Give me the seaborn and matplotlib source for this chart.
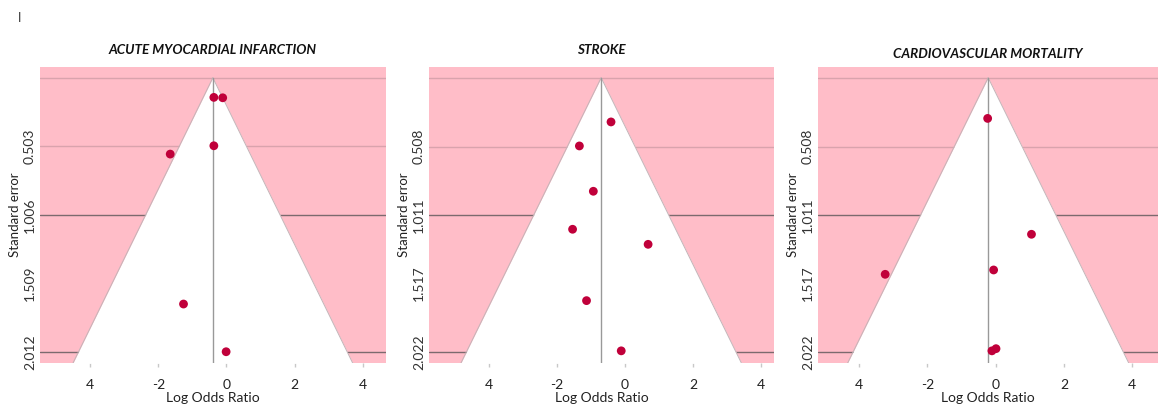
import numpy as np
import pandas as pd
import matplotlib
matplotlib.use("Agg")
import matplotlib.pyplot as plt
import seaborn as sns

# panel titles
titulos = ["ACUTE MYOCARDIAL INFARCTION", "STROKE", "CARDIOVASCULAR MORTALITY"]

# log odds ratio / standard error of each study
ami_lor = [-0.37, -0.11, -0.37, -1.65, -1.26, -0.01]
ami_se = [0.144, 0.147, 0.499, 0.56, 1.66, 2.01]

stroke_lor = [-0.41, -1.34, -0.93, -1.54, 0.68, -1.13, -0.11]
stroke_se = [0.326, 0.503, 0.837, 1.117, 1.228, 1.643, 2.013]

cvm_lor = [-0.235, 1.05, -3.24, -0.06, -0.11, 0.01]
cvm_se = [0.30, 1.154, 1.449, 1.417, 2.013, 1.997]

# pooled estimate (centre of the funnel)
pooled = [-0.40, -0.70, -0.22]

# y ticks (standard error)
ami_yticks = [0.503, 1.006, 1.509, 2.012]
other_yticks = [0.508, 1.011, 1.517, 2.022]

xticks = [-4, -2, 0, 2, 4]
xticklabels = ["4", "-2", "0", "2", "4"]

sns.set_theme(style="white")
plt.rcParams["font.family"] = ["Lato", "DejaVu Sans"]

rosa = "#FFBDC8"
ponto = "#C0003A"

fig = plt.figure(figsize=(11.58, 4.11), dpi=100)

posicoes = [
    [40 / 1158, 0.116, 346 / 1158, 0.7217],
    [429 / 1158, 0.116, 345 / 1158, 0.7217],
    [818 / 1158, 0.116, 340 / 1158, 0.7217],
]
xlims = [(-5.47, 4.68), (-5.76, 4.38), (-5.21, 4.76)]
ylims = [(2.095, -0.081), (2.105, -0.081), (2.105, -0.081)]

dados = [(ami_lor, ami_se), (stroke_lor, stroke_se), (cvm_lor, cvm_se)]
yticks_list = [ami_yticks, other_yticks, other_yticks]
title_pads = [9, 9, 6]

for i in range(3):
    ax = fig.add_axes(posicoes[i])
    ax.set_facecolor(rosa)
    lor, se = dados[i]
    yt = yticks_list[i]
    c = pooled[i]
    ybot = ylims[i][0]

    # reference lines (only some show up in the original)
    for yv, cor in [(0, "#D9A3AD"), (yt[0], "#D9A3AD"), (yt[1], "#7C6A6E"), (yt[3], "#7C6A6E")]:
        ax.axhline(yv, color=cor, lw=1.0, zorder=1)

    # white funnel (95% region)
    s = np.array([0, ybot])
    ax.fill_betweenx(s, c - 1.96 * s, c + 1.96 * s, color="white", zorder=2, lw=0)
    ax.plot(c - 1.96 * s, s, color="#C4B4B8", lw=0.7, zorder=3)
    ax.plot(c + 1.96 * s, s, color="#C4B4B8", lw=0.7, zorder=3)
    ax.plot([c, c], [0, ybot], color="#999999", lw=1.0, zorder=3)

    df = pd.DataFrame({"lor": lor, "se": se})
    sns.scatterplot(data=df, x="lor", y="se", color=ponto, s=40, edgecolor="none",
                    ax=ax, zorder=4, legend=False)

    ax.set_xlim(xlims[i])
    ax.set_ylim(ylims[i])
    ax.set_xticks(xticks)
    ax.set_xticklabels(xticklabels, fontsize=10, color="#222222")
    ax.set_yticks(yt)
    ax.set_yticklabels([f"{v:.3f}" for v in yt], rotation=90, va="center",
                       fontsize=10, color="#333333")
    ax.tick_params(axis="x", length=3, width=1, color="#C8C8C8", pad=8, bottom=True)
    ax.tick_params(axis="y", length=0, pad=3)
    for sp in ax.spines.values():
        sp.set_visible(False)
    ax.set_xlabel("Log Odds Ratio", fontsize=10, color="#222222", labelpad=1)
    ax.set_ylabel("Standard error", fontsize=9.5, color="#222222", labelpad=2)
    ax.set_title(titulos[i], fontsize=9.7, fontweight="bold", fontstyle="italic",
                 pad=title_pads[i], color="#111111")

fig.text(20 / 1158, 1 - 18 / 411, "I", fontsize=9, va="center", ha="center", color="#333333")

fig.savefig("out.png", dpi=100, facecolor="white")
